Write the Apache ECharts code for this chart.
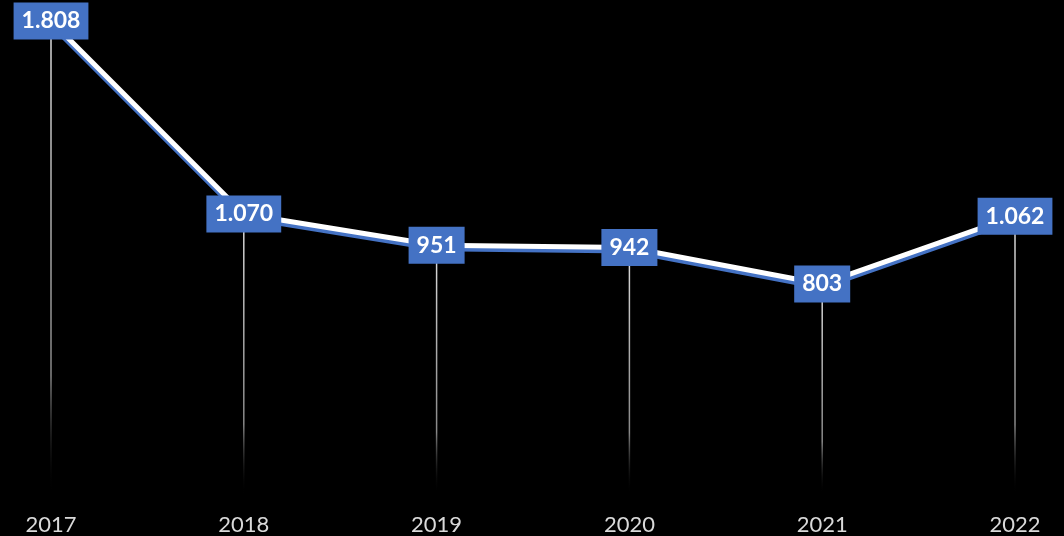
<!DOCTYPE html>
<html><head><meta charset="utf-8">
<script src="https://cdn.jsdelivr.net/npm/echarts@6/dist/echarts.min.js"></script>
<style>html,body{margin:0;padding:0;background:#000;}#c{width:1064px;height:536px;}</style>
</head><body><div id="c"></div>
<script>
const categories = ['2017','2018','2019','2020','2021','2022'];
const values = [1808, 1070, 951, 942, 803, 1062];

function fmt(v){ return String(v).replace(/\B(?=(\d{3})+(?!\d))/g, '.'); }

const chart = echarts.init(document.getElementById('c'));
chart.setOption({
  backgroundColor: '#000',
  animation: false,
  grid: { left: 51, right: 49, top: 21, bottom: 42 },
  xAxis: {
    type: 'category', data: categories, boundaryGap: false,
    axisLine: { show: false }, axisTick: { show: false },
    axisLabel: { color: '#d9d9d9', fontSize: 22, fontFamily: 'Lato', margin: 20 }
  },
  yAxis: { type: 'value', min: 0, max: 1808, show: false, splitLine: { show: false } },
  series: [
    {
      type: 'bar', data: values, barWidth: 1.5, z: 1,
      itemStyle: { color: new echarts.graphic.LinearGradient(0,0,0,1,[
        {offset:0,color:'rgba(235,235,235,0.95)'},{offset:0.75,color:'rgba(170,170,170,0.8)'},{offset:1,color:'rgba(0,0,0,0)'}]) }
    },
    {
      type: 'line', data: values, z: 3,
      symbol: 'circle', symbolSize: 1, itemStyle: { color: 'rgba(0,0,0,0)' },
      lineStyle: { color: '#ffffff', width: 5, shadowColor: '#4472C4', shadowOffsetY: 3.5, shadowBlur: 0 },
      label: {
        show: true, position: 'inside', formatter: p => fmt(p.value),
        backgroundColor: '#4472C4', color: '#fff', fontWeight: 'bold', fontSize: 23,
        fontFamily: 'Lato', padding: [8, 8, 6, 8]
      }
    }
  ]
});
</script></body></html>
